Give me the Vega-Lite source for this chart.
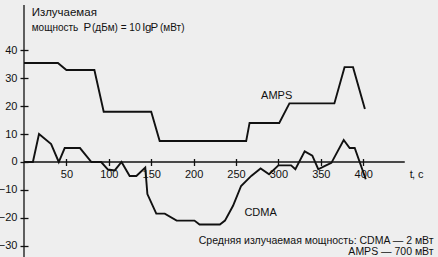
{
  "$schema": "https://vega.github.io/schema/vega-lite/v6.json",
  "width": 414,
  "height": 252,
  "autosize": {"type": "none"},
  "padding": {"left": 24, "top": 5, "right": 0, "bottom": 0},
  "background": "#eeeeee",
  "config": {
    "view": {"stroke": null},
    "font": "Liberation Sans",
    "axis": {"labelOverlap": false, "labelBound": false, "labelFlush": false},
    "text": {"font": "Liberation Sans", "color": "#111"}
  },
  "datasets": {
    "series": [
      {"s": "AMPS", "t": 0, "v": 35.5},
      {"s": "AMPS", "t": 40, "v": 35.5},
      {"s": "AMPS", "t": 50, "v": 33},
      {"s": "AMPS", "t": 83, "v": 33},
      {"s": "AMPS", "t": 94, "v": 18},
      {"s": "AMPS", "t": 150, "v": 18},
      {"s": "AMPS", "t": 160, "v": 7.5},
      {"s": "AMPS", "t": 262, "v": 7.5},
      {"s": "AMPS", "t": 266, "v": 14},
      {"s": "AMPS", "t": 301, "v": 14},
      {"s": "AMPS", "t": 313, "v": 21},
      {"s": "AMPS", "t": 366, "v": 21},
      {"s": "AMPS", "t": 378, "v": 34},
      {"s": "AMPS", "t": 388, "v": 34},
      {"s": "AMPS", "t": 402, "v": 19},
      {"s": "CDMA", "t": 0, "v": 0},
      {"s": "CDMA", "t": 10.5, "v": 0},
      {"s": "CDMA", "t": 17.7, "v": 10},
      {"s": "CDMA", "t": 32, "v": 6.4},
      {"s": "CDMA", "t": 41, "v": 0},
      {"s": "CDMA", "t": 48, "v": 5},
      {"s": "CDMA", "t": 66, "v": 5},
      {"s": "CDMA", "t": 79.5, "v": 0},
      {"s": "CDMA", "t": 91, "v": 0},
      {"s": "CDMA", "t": 99, "v": -2.7},
      {"s": "CDMA", "t": 107, "v": -3},
      {"s": "CDMA", "t": 115, "v": 0},
      {"s": "CDMA", "t": 124.6, "v": -5},
      {"s": "CDMA", "t": 132.5, "v": -5},
      {"s": "CDMA", "t": 143, "v": -2},
      {"s": "CDMA", "t": 145.5, "v": -11.5},
      {"s": "CDMA", "t": 156, "v": -18.5},
      {"s": "CDMA", "t": 166, "v": -18.5},
      {"s": "CDMA", "t": 180, "v": -21},
      {"s": "CDMA", "t": 201, "v": -21},
      {"s": "CDMA", "t": 207, "v": -22.4},
      {"s": "CDMA", "t": 231, "v": -22.4},
      {"s": "CDMA", "t": 237, "v": -21},
      {"s": "CDMA", "t": 246.5, "v": -15.7},
      {"s": "CDMA", "t": 256, "v": -8.6},
      {"s": "CDMA", "t": 268, "v": -5},
      {"s": "CDMA", "t": 279, "v": -2.3},
      {"s": "CDMA", "t": 289, "v": -4.4},
      {"s": "CDMA", "t": 300, "v": -1.2},
      {"s": "CDMA", "t": 315, "v": -1.2},
      {"s": "CDMA", "t": 320, "v": -2.6},
      {"s": "CDMA", "t": 331, "v": 3.8},
      {"s": "CDMA", "t": 340, "v": 2.3},
      {"s": "CDMA", "t": 347, "v": -2.6},
      {"s": "CDMA", "t": 355, "v": -1.4},
      {"s": "CDMA", "t": 362.5, "v": -0.3},
      {"s": "CDMA", "t": 377, "v": 7.9},
      {"s": "CDMA", "t": 384, "v": 5},
      {"s": "CDMA", "t": 390, "v": 5},
      {"s": "CDMA", "t": 403, "v": -6.2}
    ],
    "hline": [{"t": 0, "t2": 449, "v": 0}],
    "vline": [{"t": 0, "v": -34.05, "v2": 56.27}],
    "leftText": [
      {"t": 9.1, "v": 53.4, "label": "Излучаемая", "style": "normal", "font": "Liberation Sans", "fs": 11.5},
      {"t": 9.1, "v": 48.2, "label": "мощность", "style": "normal", "font": "Liberation Sans", "fs": 10},
      {"t": 70.2, "v": 48.2, "label": "P", "style": "italic", "font": "Liberation Serif", "fs": 11.5},
      {"t": 80.2, "v": 48.2, "label": "(дБм) = 10", "style": "normal", "font": "Liberation Sans", "fs": 10},
      {"t": 139.7, "v": 48.2, "label": "lg", "style": "normal", "font": "Liberation Serif", "fs": 11.5},
      {"t": 149.2, "v": 48.2, "label": "P", "style": "italic", "font": "Liberation Serif", "fs": 11.5},
      {"t": 160.4, "v": 48.2, "label": "(мВт)", "style": "normal", "font": "Liberation Sans", "fs": 10}
    ],
    "centerText": [
      {"t": 298, "v": 23.8, "label": "AMPS"},
      {"t": 279, "v": -18.3, "label": "CDMA"}
    ],
    "rightText": [
      {"t": 483, "v": -28.2, "label": "Средняя излучаемая мощность: CDMA — 2 мВт"},
      {"t": 483, "v": -32.1, "label": "AMPS — 700 мВт"}
    ],
    "unit": [
      {"t": 455, "v": -4.8, "label": "t", "style": "italic"},
      {"t": 457.5, "v": -4.8, "label": ", c", "style": "normal"}
    ]
  },
  "encoding": {
    "x": {"field": "t", "type": "quantitative", "scale": {"domain": [0, 488.2], "nice": false, "zero": false},
      "axis": {"values": [50, 100, 150, 200, 250, 300, 350, 400], "orient": "bottom", "domain": false, "grid": false, "title": null,
        "tickSize": 7, "tickColor": "#111", "tickWidth": 1.3, "offset": -98.5, "labelPadding": 3,
        "labelFontSize": 11, "labelColor": "#111", "labelFont": "Liberation Sans", "labelOverlap": false}},
    "y": {"field": "v", "type": "quantitative", "scale": {"domain": [-34.05, 56.27], "nice": false, "zero": false},
      "axis": {"values": [-30, -20, -10, 0, 10, 20, 30, 40], "orient": "left", "domain": false, "grid": false, "title": null,
        "tickSize": 8, "tickColor": "#111", "tickWidth": 1.3, "offset": -4, "labelPadding": 3,
        "labelFontSize": 11, "labelColor": "#111", "labelFont": "Liberation Sans", "labelOverlap": false, "labelBound": false, "labelFlush": false}}
  },
  "layer": [
    {
      "data": {"name": "hline"},
      "mark": {"type": "rule", "color": "#111", "strokeWidth": 1.3},
      "encoding": {"x2": {"field": "t2"}}
    },
    {
      "data": {"name": "vline"},
      "mark": {"type": "rule", "color": "#111", "strokeWidth": 1.3},
      "encoding": {"y2": {"field": "v2"}}
    },
    {
      "data": {"name": "series"},
      "mark": {"type": "line", "color": "#111", "strokeWidth": 1.9, "strokeJoin": "miter"},
      "encoding": {"detail": {"field": "s"}}
    },
    {
      "data": {"name": "leftText"},
      "mark": {"type": "text", "align": "left", "baseline": "middle"},
      "encoding": {
        "text": {"field": "label"},
        "size": {"field": "fs", "type": "quantitative", "scale": null},
        "fontStyle": {"field": "style", "type": "nominal", "scale": null},
        "font": {"field": "font", "type": "nominal", "scale": null}
      }
    },
    {
      "data": {"name": "centerText"},
      "mark": {"type": "text", "align": "center", "baseline": "middle", "fontSize": 11},
      "encoding": {"text": {"field": "label"}}
    },
    {
      "data": {"name": "rightText"},
      "mark": {"type": "text", "align": "right", "baseline": "middle", "fontSize": 10.5},
      "encoding": {"text": {"field": "label"}}
    },
    {
      "data": {"name": "unit"},
      "mark": {"type": "text", "align": "left", "baseline": "middle", "fontSize": 11},
      "encoding": {
        "text": {"field": "label"},
        "fontStyle": {"field": "style", "type": "nominal", "scale": null}
      }
    }
  ]
}
